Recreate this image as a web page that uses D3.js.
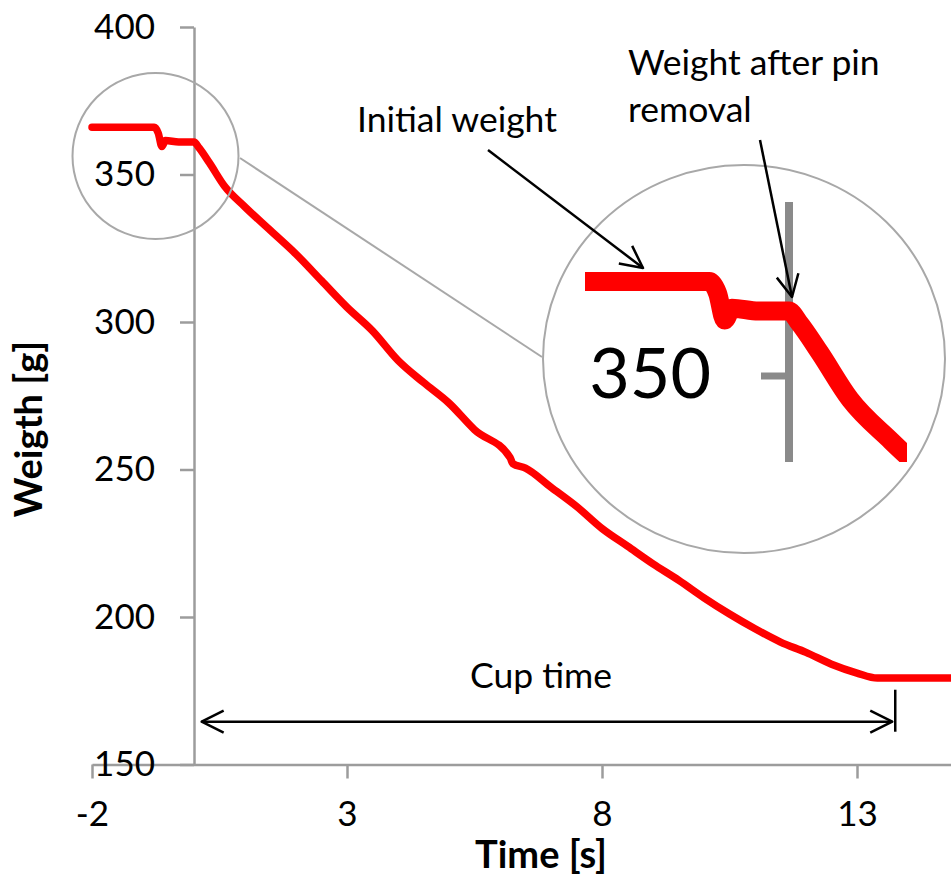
<!DOCTYPE html>
<html>
<head>
<meta charset="utf-8">
<script src="https://cdn.jsdelivr.net/npm/d3@7.9.0/dist/d3.min.js"></script>
<style>
  body { margin: 0; background: #fff; }
  svg { display: block; font-family: Lato, 'Open Sans', sans-serif; }
  .axis path, .axis line { stroke: #9c9c9c; stroke-width: 2.5; }
  .axis text { font-family: Lato, sans-serif; font-size: 35px; fill: #000; }
  .title { font-size: 38px; font-weight: bold; fill: #000; }
  .note { font-size: 35.5px; fill: #000; }
</style>
</head>
<body>
<svg id="chart" width="951" height="877"></svg>
<script>
// red trace: time [s] and weight [g]
const times = [-2.0, -1.5, -1.0, -0.78, -0.7, -0.63, -0.56, -0.3, 0.0, 0.1, 0.3, 0.6, 1.0, 1.5, 2.0, 2.5, 3.0, 3.5,
  4.0, 4.5, 5.0, 5.5, 6.2, 6.25, 6.5, 7.0, 7.5, 8.0, 8.5, 9.0, 9.5, 10.0, 10.5, 11.0, 11.5, 12.0, 12.5, 13.0, 13.4, 14.0, 14.85];
const weights = [366, 366, 366, 366, 364, 359.5, 361.5, 361, 361, 359, 354, 346, 339, 331, 323, 314, 305, 297,
  287, 279.5, 272.5, 263.5, 254, 252, 250.5, 244, 237.5, 230, 224, 218, 212.5, 206.5, 201, 196, 191.5, 188, 184, 181, 179.3, 179.3, 179.3];

const xTicks = [-2, 3, 8, 13];
const yTicks = [150, 200, 250, 300, 350, 400];

// cup time span [s] and the weight level the arrow sits at
const cupStart = 0.15;
const cupEnd = 13.75;
const cupLevel = 164.5;

const svg = d3.select('#chart');

const x = d3.scaleLinear().domain([-2, 15]).range([92, 959]);
const y = d3.scaleLinear().domain([150, 400]).range([764.5, 27]);

let data = times.map((t, i) => ({ t: t, w: weights[i] }));
let line = d3.line().curve(d3.curveMonotoneX).x((d) => x(d.t)).y((d) => y(d.w));

let defs = svg.append('defs');
defs.append('marker')
  .attr('id', 'arrow')
  .attr('markerUnits', 'userSpaceOnUse')
  .attr('viewBox', '-26 -14 30 28')
  .attr('markerWidth', 30)
  .attr('markerHeight', 28)
  .attr('refX', 0)
  .attr('refY', 0)
  .attr('orient', 'auto-start-reverse')
  .append('path')
  .attr('d', 'M-22,-11L0,0L-22,11')
  .attr('fill', 'none')
  .attr('stroke', '#000')
  .attr('stroke-width', 2.5)
  .attr('stroke-linejoin', 'round');

// axes
svg.append('g')
  .attr('class', 'axis')
  .attr('transform', `translate(0,${y(150)})`)
  .call(d3.axisBottom(x).tickValues(xTicks).tickFormat((d) => String(d))
    .tickSize(14).tickSizeOuter(0).tickPadding(23));

svg.append('g')
  .attr('class', 'axis')
  .attr('transform', `translate(${x(0)},0)`)
  .call(d3.axisLeft(y).tickValues(yTicks).tickSize(14).tickSizeOuter(0).tickPadding(25));

svg.append('text')
  .attr('class', 'title')
  .attr('x', 541)
  .attr('y', 868)
  .attr('text-anchor', 'middle')
  .text('Time [s]');

svg.append('text')
  .attr('class', 'title')
  .attr('transform', 'translate(42,429) rotate(-90)')
  .attr('text-anchor', 'middle')
  .text('Weigth [g]');

// the trace
svg.append('path')
  .datum(data)
  .attr('d', line)
  .attr('fill', 'none')
  .attr('stroke', '#ff0000')
  .attr('stroke-width', 7.5)
  .attr('stroke-linejoin', 'round')
  .attr('stroke-linecap', 'round');

// cup time arrow
svg.append('line')
  .attr('x1', x(cupStart))
  .attr('x2', x(cupEnd) - 3)
  .attr('y1', y(cupLevel))
  .attr('y2', y(cupLevel))
  .attr('stroke', '#000')
  .attr('stroke-width', 2.5)
  .attr('marker-start', 'url(#arrow)')
  .attr('marker-end', 'url(#arrow)');

svg.append('line')
  .attr('x1', x(cupEnd))
  .attr('x2', x(cupEnd))
  .attr('y1', y(cupLevel) - 32)
  .attr('y2', y(cupLevel) + 10)
  .attr('stroke', '#000')
  .attr('stroke-width', 2.5);

svg.append('text')
  .attr('class', 'note')
  .attr('x', 541)
  .attr('y', 688)
  .attr('text-anchor', 'middle')
  .text('Cup time');

// magnifier: small circle, connector, big circle
svg.append('circle')
  .attr('cx', 155.5)
  .attr('cy', 156)
  .attr('r', 83)
  .attr('fill', 'none')
  .attr('stroke', '#a8a8a8')
  .attr('stroke-width', 2);

svg.append('line')
  .attr('x1', 240).attr('y1', 158)
  .attr('x2', 542).attr('y2', 357)
  .attr('stroke', '#a8a8a8')
  .attr('stroke-width', 2);

svg.append('ellipse')
  .attr('cx', 744)
  .attr('cy', 359)
  .attr('rx', 201)
  .attr('ry', 194)
  .attr('fill', '#fff')
  .attr('stroke', '#a8a8a8')
  .attr('stroke-width', 2);

// zoomed copy around (t=0, w=350), scaled 2x, placed at (789, 376)
const k = 2;
let inset = svg.append('g')
  .attr('transform', `translate(${789 - k * x(0)},${376 - k * y(350)}) scale(${k})`);

defs.append('clipPath')
  .attr('id', 'inset-clip')
  .append('rect')
  .attr('x', 88)
  .attr('y', 87.5)
  .attr('width', 165)
  .attr('height', 130);

let insetBody = inset.append('g').attr('clip-path', 'url(#inset-clip)');

insetBody.append('line')
  .attr('x1', x(0)).attr('x2', x(0))
  .attr('y1', 0).attr('y2', 877)
  .attr('stroke', '#8a8a8a')
  .attr('stroke-width', 4);

insetBody.append('line')
  .attr('x1', x(0) - 14).attr('x2', x(0))
  .attr('y1', y(350)).attr('y2', y(350))
  .attr('stroke', '#8a8a8a')
  .attr('stroke-width', 3.5);

insetBody.append('text')
  .attr('x', x(0) - 39)
  .attr('y', y(350))
  .attr('dy', '0.32em')
  .attr('text-anchor', 'end')
  .style('font-size', '35px')
  .text('350');

insetBody.append('path')
  .datum(data)
  .attr('d', line)
  .attr('fill', 'none')
  .attr('stroke', '#ff0000')
  .attr('stroke-width', 9.5)
  .attr('stroke-linejoin', 'round');

// callouts
svg.append('text')
  .attr('class', 'note')
  .attr('x', 357)
  .attr('y', 132)
  .text('Initial weight');

svg.append('line')
  .attr('x1', 488).attr('y1', 150)
  .attr('x2', 643).attr('y2', 268)
  .attr('stroke', '#000')
  .attr('stroke-width', 2.5)
  .attr('marker-end', 'url(#arrow)');

let pinNote = svg.append('text')
  .attr('class', 'note')
  .attr('x', 628)
  .attr('y', 75);
pinNote.append('tspan').text('Weight after pin');
pinNote.append('tspan').attr('x', 628).attr('dy', 47).text('removal');

svg.append('line')
  .attr('x1', 760).attr('y1', 140)
  .attr('x2', 792).attr('y2', 297)
  .attr('stroke', '#000')
  .attr('stroke-width', 2.5)
  .attr('marker-end', 'url(#arrow)');
</script>
</body>
</html>
